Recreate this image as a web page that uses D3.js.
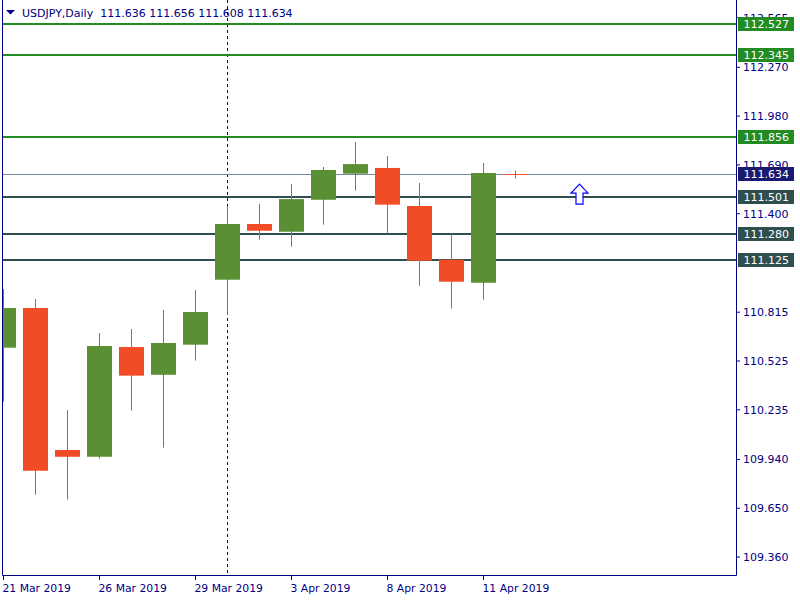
<!DOCTYPE html>
<html><head><meta charset="utf-8">
<script src="https://cdn.jsdelivr.net/npm/d3@7"></script>
<style>body{margin:0;background:#fff;} svg{display:block;font-family:"DejaVu Sans",sans-serif;}</style>
</head><body><svg id="c" width="800" height="600"></svg>
<script>
const symbol = "USDJPY", timeframe = "Daily";
const dates = ["21 Mar","22 Mar","25 Mar","26 Mar","27 Mar","28 Mar","29 Mar","1 Apr","2 Apr","3 Apr","4 Apr","5 Apr","8 Apr","9 Apr","10 Apr","11 Apr","12 Apr"];
const opens  = [110.604,110.840,109.996,109.956,110.608,110.443,110.622,111.008,111.339,111.293,111.483,111.638,111.672,111.446,111.127,110.990,111.636];
const highs  = [110.953,110.893,110.234,110.691,110.715,110.828,110.947,111.446,111.458,111.577,111.678,111.826,111.743,111.583,111.279,111.701,111.656];
const lows   = [110.283,109.730,109.701,109.944,110.230,110.010,110.527,110.798,111.246,111.204,111.335,111.537,111.281,110.972,110.836,110.889,111.608];
const closes = [110.840,109.873,109.956,110.614,110.438,110.632,110.816,111.339,111.299,111.487,111.660,111.695,111.454,111.121,110.996,111.642,111.634];
const xTickIdx = [0,3,6,9,12,15];
const xTickLabels = ["21 Mar 2019","26 Mar 2019","29 Mar 2019","3 Apr 2019","8 Apr 2019","11 Apr 2019"];
const yTickValues = [112.565,112.270,111.980,111.690,111.400,110.815,110.525,110.235,109.940,109.650,109.360];
const levelValues = [112.527,112.345,111.856,111.501,111.280,111.125];
const levelKinds  = ["res","res","res","sup","sup","sup"];
const bidValue = 111.634;
const separatorIdx = 7;
const arrowIdx = 18, arrowPrice = 111.576;

const navy = "#000080", upCol = "#5a8f33", downCol = "#f24c27";
const levelCol = {res:"#228b22", sup:"#2f4f4f"};
const svg = d3.select("#c");
svg.append("rect").attr("width",800).attr("height",600).attr("fill","#fff");

const x = d3.scaleLinear().domain([0,1]).range([3.5,35.5]);
const y = d3.scaleLinear().domain([109.2475,112.6462]).range([576,4]);

svg.append("clipPath").attr("id","plot").append("rect").attr("x",3).attr("y",0).attr("width",733).attr("height",576);
const plot = svg.append("g").attr("clip-path","url(#plot)");

// period separator
plot.append("line").attr("x1",x(separatorIdx)).attr("x2",x(separatorIdx)).attr("y1",0).attr("y2",576)
  .attr("stroke",navy).attr("stroke-width",1).attr("stroke-dasharray","3,3");

// levels
plot.selectAll("line.lvl").data(levelValues).join("line").attr("class","lvl")
  .attr("x1",3).attr("x2",736).attr("y1",d=>Math.round(y(d))).attr("y2",d=>Math.round(y(d)))
  .attr("stroke",(d,i)=>levelCol[levelKinds[i]]).attr("stroke-width",2);
plot.append("line").attr("x1",3).attr("x2",736).attr("y1",Math.floor(y(bidValue))+0.5).attr("y2",Math.floor(y(bidValue))+0.5)
  .attr("stroke","#778899").attr("stroke-width",1);

// candles
const idx = d3.range(dates.length);
const cg = plot.selectAll("g.c").data(idx).join("g").attr("class","c");
const col = i => closes[i] >= opens[i] ? upCol : downCol;
cg.append("line").attr("x1",i=>x(i)).attr("x2",i=>x(i)).attr("y1",i=>y(highs[i])).attr("y2",i=>y(lows[i]))
  .attr("stroke",col).attr("stroke-width",1);
cg.append("rect").attr("x",i=>x(i)-12.5).attr("width",25)
  .attr("y",i=>y(Math.max(opens[i],closes[i])))
  .attr("height",i=>Math.max(1, y(Math.min(opens[i],closes[i]))-y(Math.max(opens[i],closes[i]))))
  .attr("fill",col);

// arrow
const ax = x(arrowIdx), ay = y(arrowPrice);
plot.append("path").attr("transform",`translate(${ax},${ay})`)
  .attr("d","M0,0 L8.5,9 L3.5,9 L3.5,20 L-3.5,20 L-3.5,9 L-8.5,9 Z")
  .attr("fill","#fff").attr("stroke","#0000ff").attr("stroke-width",1.2);

// frame
svg.append("path").attr("d","M2.5,0 V575.5 H736.5 V0").attr("fill","none").attr("stroke",navy).attr("stroke-width",1);

// y axis
const ya = svg.append("g").attr("transform","translate(736,0)")
  .call(d3.axisRight(y).tickValues(yTickValues).tickSize(4).tickPadding(3).tickFormat(d3.format(".3f")).offset(0));
ya.select(".domain").remove();
ya.selectAll("line").attr("stroke",navy);
ya.selectAll("text").attr("fill",navy).attr("font-size",11).attr("font-family","DejaVu Sans").attr("dy","0.35em");

// x axis
const xa = svg.append("g").attr("transform","translate(0,576)")
  .call(d3.axisBottom(x).tickValues(xTickIdx).tickSize(4).tickFormat((d,i)=>xTickLabels[i]).offset(0));
xa.select(".domain").remove();
xa.selectAll("line").attr("stroke",navy);
xa.selectAll("text").attr("fill",navy).attr("font-size",10.8).attr("font-family","DejaVu Sans")
  .attr("text-anchor","start").attr("x",-1).attr("y",16.3).attr("dy",0);

// level boxes
const boxes = levelValues.map((v,i)=>({v, c: levelCol[levelKinds[i]]})).concat([{v:bidValue, c:"#191970"}]);
const bg = svg.selectAll("g.box").data(boxes).join("g").attr("class","box");
bg.append("rect").attr("x",738).attr("width",56).attr("y",d=>Math.round(y(d.v))-7).attr("height",14).attr("fill",d=>d.c);
bg.append("text").attr("x",743.5).attr("y",d=>Math.round(y(d.v))).attr("dy","0.36em").attr("fill","#fff")
  .attr("font-size",11).text(d=>d3.format(".3f")(d.v));

// title
const last = dates.length-1;
svg.append("path").attr("d","M6,10 L15,10 L10.5,14.5 Z").attr("fill",navy);
svg.append("text").attr("x",22).attr("y",17).attr("fill",navy).attr("font-size",11)
  .attr("xml:space","preserve").style("white-space","pre")
  .text(`${symbol},${timeframe}  ${[opens[last],highs[last],lows[last],closes[last]].map(d3.format(".3f")).join(" ")}`);
</script>
</body></html>
